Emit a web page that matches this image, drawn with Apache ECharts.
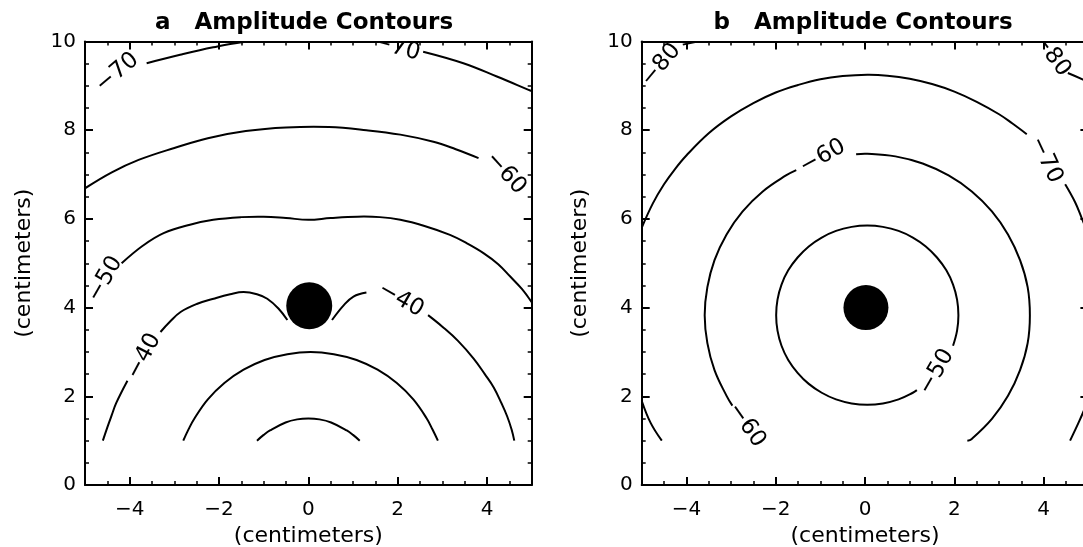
<!DOCTYPE html>
<html><head><meta charset="utf-8">
<script src="https://cdn.jsdelivr.net/npm/echarts@6/dist/echarts.min.js"></script>
<style>html,body{margin:0;padding:0;background:#fff}#c{width:1083px;height:547px}</style>
</head><body><div id="c"></div>
<script>
// ---------- data (centimeters) ----------
const titles = ['a   Amplitude Contours', 'b   Amplitude Contours'];
const axisName = '(centimeters)';

// panel a contour segments
const a20 = [[[-1.15,1.0],[-1.0,1.13],[-0.86,1.23],[-0.51,1.41],[-0.25,1.48],[0,1.5],[0.25,1.48],[0.51,1.41],[0.86,1.23],[1.0,1.13],[1.15,1.0]]];
const a30 = [[[-2.8,1.0],[-2.68,1.26],[-2.55,1.5],[-2.25,1.93],[-1.88,2.3],[-1.45,2.6],[-0.98,2.82],[-0.47,2.95],[0.05,3.0],[0.57,2.95],[1.08,2.82],[1.55,2.6],[1.98,2.3],[2.35,1.93],[2.65,1.5],[2.78,1.25],[2.9,1.0]]];
const a40 = [
  [[-4.6,1.0],[-4.5,1.3],[-4.4,1.58],[-4.3,1.85],[-4.05,2.35]],
  [[-3.31,3.45],[-3.1,3.68],[-2.86,3.9],[-2.5,4.08],[-2.12,4.2],[-1.75,4.3],[-1.45,4.35],[-1.15,4.3],[-0.92,4.2],[-0.67,3.98],[-0.47,3.72]],
  [[0.53,3.72],[0.79,4.05],[1.01,4.25],[1.3,4.34]],
  [[2.68,3.83],[3.0,3.57],[3.35,3.25],[3.7,2.85],[3.95,2.5],[4.15,2.2],[4.32,1.85],[4.45,1.55],[4.55,1.25],[4.61,1.0]]
];
const a50 = [[[-4.18,5.0],[-3.7,5.4],[-3.24,5.68],[-2.65,5.87],[-2.13,5.98],[-1.5,6.04],[-1.0,6.05],[-0.5,6.02],[0,5.98],[0.5,6.02],[1.1,6.05],[1.6,6.04],[2.06,5.98],[2.6,5.84],[3.17,5.64],[3.55,5.45],[3.92,5.23],[4.25,4.98],[4.52,4.7],[4.78,4.42],[5.0,4.12]]];
const a60 = [[[-5.0,6.69],[-4.4,7.05],[-3.8,7.33],[-3.0,7.6],[-2.25,7.82],[-1.4,7.98],[-0.5,8.06],[0.46,8.07],[1.3,8.0],[2.06,7.9],[2.8,7.74],[3.3,7.57],[3.81,7.37]]];
const a70 = [
  [[-3.62,9.51],[-2.87,9.7],[-2.13,9.87],[-1.53,9.98],[-1.08,10.0]],
  [[2.57,9.77],[3.47,9.51],[4.22,9.21],[4.93,8.91],[5.0,8.88]]
];
const aLabelText = ['\u221240','\u221240','\u221250','\u221260','\u221270','\u221270'];
const aLabelPos  = [[-3.68,2.9,62],[2.07,4.18,-30],[-4.55,4.64,60],[4.42,7.03,-48],[-4.28,9.3,40],[1.97,9.86,-15]];
const aSource = [[0.02,4.04]];

// panel b contour segments
const b50 = [[[1.97,3.14],[2.06,3.48],[2.09,3.83],[2.06,4.18],[1.97,4.52],[1.82,4.84],[1.61,5.13],[1.36,5.38],[1.07,5.58],[0.75,5.73],[0.4,5.82],[0.05,5.85],[-0.3,5.82],[-0.65,5.73],[-0.97,5.58],[-1.26,5.38],[-1.51,5.13],[-1.72,4.84],[-1.87,4.52],[-1.96,4.18],[-1.99,3.83],[-1.96,3.48],[-1.87,3.14],[-1.72,2.82],[-1.51,2.53],[-1.26,2.28],[-0.97,2.08],[-0.65,1.93],[-0.3,1.84],[0.05,1.81],[0.4,1.84],[0.75,1.93],[1.07,2.08],[1.16,2.14]]];
const b60 = [
  [[2.29,1.0],[2.39,1.04],[2.84,1.49],[3.2,2.01],[3.47,2.59],[3.64,3.2],[3.69,3.83],[3.64,4.46],[3.47,5.07],[3.2,5.65],[2.84,6.17],[2.39,6.62],[1.87,6.98],[1.29,7.25],[0.68,7.41],[0.05,7.47],[-0.2,7.46]],
  [[-1.54,7.1],[-1.77,6.98],[-2.29,6.62],[-2.74,6.17],[-3.1,5.65],[-3.37,5.07],[-3.53,4.46],[-3.59,3.83],[-3.53,3.2],[-3.37,2.59],[-3.1,2.01],[-2.97,1.79]]
];
const b70 = [
  [[-5.0,5.8],[-4.75,6.35],[-4.5,6.78],[-4.25,7.13],[-4.0,7.43],[-3.5,7.93],[-3.0,8.31],[-2.5,8.61],[-2.0,8.85],[-1.5,9.02],[-1.0,9.15],[-0.5,9.22],[0.05,9.25],[0.5,9.23],[1.0,9.16],[1.5,9.04],[2.0,8.87],[2.5,8.64],[3.0,8.36],[3.3,8.15],[3.62,7.91]],
  [[4.48,6.78],[4.7,6.38],[4.85,6.02],[5.0,5.65]],
  [[-5.0,1.9],[-4.8,1.4],[-4.55,1.0]],
  [[4.59,1.0],[4.8,1.45],[5.0,1.92]]
];
const b80 = [
  [[-4.08,9.93],[-3.75,10.0]],
  [[4.54,9.29],[4.88,9.14],[5.0,9.07]]
];
const bLabelText = ['\u221250','\u221260','\u221260','\u221270','\u221280','\u221280'];
const bLabelPos  = [[1.6,2.55,60],[-0.95,7.4,29],[-2.65,1.35,-55],[4.05,7.33,-65],[-4.57,9.47,50],[4.17,9.71,-54]];
const bSource = [[0.02,4.0]];

const xRange = [-5, 5];
const yRange = [0, 10];

// ---------- chart ----------
const FONT = 'DejaVu Sans';
const fmt = v => (v < 0 ? '\u2212' + (-v) : String(v));
const gridA = {left:85, top:41.5, width:446.7, height:443.5, outerBoundsMode:'none', containLabel:false};
const gridB = {left:641.7, top:41.5, width:446.7, height:443.5, outerBoundsMode:'none', containLabel:false};

function majorX(g, pos, label) {
  return {type:'value', gridIndex:g, position:pos, min:xRange[0], max:xRange[1], splitNumber:5, minInterval:2, maxInterval:2,
    axisLine:{show:true, onZero:false, lineStyle:{color:'#000', width:2}},
    axisTick:{show:true, inside:true, length:8, lineStyle:{color:'#000', width:2}},
    axisLabel:{show:label, margin:15, color:'#000', fontFamily:FONT, fontSize:20, formatter:v => (v % 2 === 0 ? fmt(v) : '')},
    splitLine:{show:false},
    name: label ? axisName : '', nameLocation:'middle', nameGap:39,
    nameTextStyle:{color:'#000', fontFamily:FONT, fontSize:22}};
}
function minorX(g, pos) {
  return {type:'value', gridIndex:g, position:pos, min:xRange[0], max:xRange[1], interval:0.5,
    axisLine:{show:false}, axisTick:{show:true, inside:true, length:4, lineStyle:{color:'#000', width:1.5}},
    axisLabel:{show:false}, splitLine:{show:false}};
}
function majorY(g, pos, label) {
  return {type:'value', gridIndex:g, position:pos, min:yRange[0], max:yRange[1], interval:2,
    axisLine:{show:true, onZero:false, lineStyle:{color:'#000', width:2}},
    axisTick:{show:true, inside:true, length:8, lineStyle:{color:'#000', width:2}},
    minorTick:{show:true, splitNumber:4, length:4, lineStyle:{color:'#000', width:1.5}},
    axisLabel:{show:label, margin:9, color:'#000', fontFamily:FONT, fontSize:20, formatter:fmt},
    splitLine:{show:false}, minorSplitLine:{show:false},
    name: label ? axisName : '', nameLocation:'middle', nameGap:50, nameRotate:90,
    nameTextStyle:{color:'#000', fontFamily:FONT, fontSize:22}};
}
function hiddenY(g) { return {type:'value', gridIndex:g, min:yRange[0], max:yRange[1], show:false}; }

const series = [];
// contour segments: one custom polyline per segment, projected through the axes
function addContours(groups, xi, yi) {
  const segs = [];
  groups.forEach(group => group.forEach(seg => segs.push(seg)));
  series.push({type:'custom', xAxisIndex:xi, yAxisIndex:yi, clip:true, silent:true, z:3,
    data: segs.map((s, i) => [s[0][0], s[0][1], i]),
    encode:{x:0, y:1},
    renderItem:(params, api) => {
      const seg = segs[api.value(2)];
      const pts = seg.map(p => api.coord(p));
      return {type:'polyline', shape:{points:pts, smooth:0.4},
        style:{stroke:'#000', lineWidth:2, fill:null, lineJoin:'round', lineCap:'butt'}};
    }});
}
addContours([a20, a30, a40, a50, a60, a70], 0, 0);
addContours([b50, b60, b70, b80], 4, 3);

function addLabels(pos, texts, xi, yi) {
  series.push({type:'custom', xAxisIndex:xi, yAxisIndex:yi, data:pos, clip:true, silent:true, z:5,
    renderItem:(params, api) => {
      const p = api.coord([api.value(0), api.value(1)]);
      return {type:'text', x:p[0], y:p[1], rotation:api.value(2) * Math.PI / 180,
        style:{text:texts[params.dataIndex], fill:'#000', fontFamily:FONT, fontSize:23, align:'center', verticalAlign:'middle'}};
    }});
}
addLabels(aLabelPos, aLabelText, 0, 0);
addLabels(bLabelPos, bLabelText, 4, 3);

series.push({type:'scatter', xAxisIndex:0, yAxisIndex:0, data:aSource, symbol:'circle', symbolSize:[46,47], itemStyle:{color:'#000', opacity:1}, silent:true, z:4});
series.push({type:'scatter', xAxisIndex:4, yAxisIndex:3, data:bSource, symbol:'circle', symbolSize:[45,45], itemStyle:{color:'#000', opacity:1}, silent:true, z:4});

const chart = echarts.init(document.getElementById('c'), null, {renderer:'canvas'});
chart.setOption({
  animation:false,
  backgroundColor:'#fff',
  grid:[gridA, gridA, gridB, gridB],
  xAxis:[majorX(0,'bottom',true), majorX(0,'top',false), minorX(1,'bottom'), minorX(1,'top'),
         majorX(2,'bottom',true), majorX(2,'top',false), minorX(3,'bottom'), minorX(3,'top')],
  yAxis:[majorY(0,'left',true), majorY(0,'right',false), hiddenY(1),
         majorY(2,'left',true), majorY(2,'right',false), hiddenY(3)],
  graphic:[
    {type:'text', x:304, y:23, style:{text:titles[0], fill:'#000', fontFamily:FONT, fontWeight:'bold', fontSize:23, align:'center', verticalAlign:'middle'}},
    {type:'text', x:863, y:23, style:{text:titles[1], fill:'#000', fontFamily:FONT, fontWeight:'bold', fontSize:23, align:'center', verticalAlign:'middle'}}
  ],
  series
});
</script></body></html>
